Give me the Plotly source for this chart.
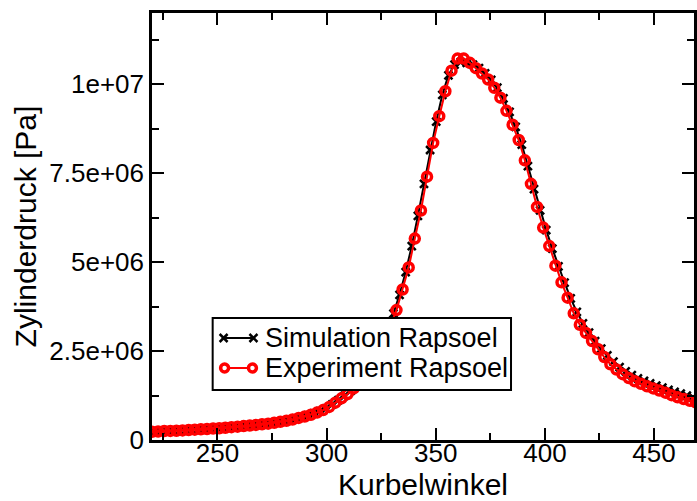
import plotly.graph_objects as go

# Experiment: crank angle grid (deg) and cylinder pressure (MPa)
exp_angle = [round(220.0 + 2.8 * i, 1) for i in range(90)]
exp_p_mpa = [0.23, 0.24, 0.25, 0.255, 0.26, 0.27, 0.28, 0.29, 0.30, 0.31,
             0.32, 0.33, 0.345, 0.36, 0.375, 0.39, 0.405, 0.425, 0.44, 0.46,
             0.485, 0.51, 0.54, 0.575, 0.62, 0.66, 0.71, 0.77, 0.84, 0.93,
             1.05, 1.17, 1.29, 1.45, 1.67, 1.9, 2.18, 2.52, 2.85, 3.2,
             3.65, 4.23, 4.85, 5.66, 6.45, 7.4, 8.35, 9.1, 9.8, 10.38,
             10.72, 10.72, 10.6, 10.45, 10.3, 10.13, 9.9, 9.62, 9.25, 8.86,
             8.43, 7.86, 7.2, 6.55, 5.97, 5.45, 4.9, 4.43, 4.0, 3.56,
             3.24, 3.01, 2.78, 2.55, 2.33, 2.13, 1.98, 1.85, 1.74, 1.65,
             1.58, 1.51, 1.45, 1.39, 1.33, 1.26, 1.2, 1.15, 1.1, 1.06]

# Simulation
sim_angle = [round(221.4 + 2.8 * i, 1) for i in range(89)]
sim_p_mpa = [0.235, 0.245, 0.252, 0.258, 0.265, 0.275, 0.285, 0.295, 0.305, 0.315,
             0.327, 0.34, 0.352, 0.368, 0.383, 0.398, 0.415, 0.433, 0.45, 0.473,
             0.498, 0.525, 0.558, 0.598, 0.64, 0.69, 0.745, 0.81, 0.89, 1.0,
             1.12, 1.24, 1.38, 1.58, 1.82, 2.08, 2.42, 2.76, 3.12, 3.55,
             4.08, 4.72, 5.45, 6.3, 7.2, 8.15, 8.95, 9.7, 10.25, 10.55,
             10.62, 10.6, 10.55, 10.45, 10.3, 10.12, 9.9, 9.6, 9.22, 8.8,
             8.3, 7.7, 7.05, 6.45, 5.9, 5.38, 4.88, 4.42, 3.98, 3.6,
             3.28, 3.02, 2.78, 2.57, 2.38, 2.2, 2.05, 1.93, 1.82, 1.73,
             1.66, 1.59, 1.53, 1.47, 1.41, 1.35, 1.3, 1.25, 1.2]

series_names = ["Simulation Rapsoel", "Experiment Rapsoel"]
x_tickvals = [250, 300, 350, 400, 450]
y_tickvals = [0, 2.5e6, 5e6, 7.5e6, 1e7]
y_ticktext = ["0", "2.5e+06", "5e+06", "7.5e+06", "1e+07"]

FONT = "Liberation Sans, Arial, sans-serif"
RED = "#ff0000"

# plot-area geometry in pixels (for the hand-drawn legend box)
L, R, T, B = 152, 697, 13, 440
def px(x):
    return (x - L) / (R - L)
def py(y):
    return (B - y) / (B - T)

fig = go.Figure()
fig.add_trace(go.Scatter(
    x=sim_angle, y=[v * 1e6 for v in sim_p_mpa], mode="lines+markers",
    name=series_names[0], showlegend=False,
    line=dict(color="black", width=2),
    marker=dict(symbol="x-thin-open", size=8, color="black",
                line=dict(color="black", width=2.5)),
))
fig.add_trace(go.Scatter(
    x=exp_angle, y=[v * 1e6 for v in exp_p_mpa], mode="lines+markers",
    name=series_names[1], showlegend=False,
    line=dict(color=RED, width=2),
    marker=dict(symbol="circle-open", size=9, color=RED,
                line=dict(color=RED, width=3.5)),
))

axis_common = dict(
    showgrid=False, zeroline=False, showline=True, linecolor="black",
    linewidth=2.5, mirror="allticks", ticks="inside", ticklen=12,
    tickwidth=2, tickcolor="black",
    tickfont=dict(family=FONT, size=26, color="black"),
)

fig.update_xaxes(
    range=[220, 468.3], tickvals=x_tickvals, ticklabelstandoff=-12,
    minor=dict(dtick=25, tick0=0, ticks="inside", ticklen=7, tickwidth=2,
               tickcolor="black"),
    title=dict(text="Kurbelwinkel", font=dict(family=FONT, size=30, color="black"),
               standoff=3),
    **axis_common,
)
fig.update_yaxes(
    range=[0, 1.2e7], tickvals=y_tickvals, ticktext=y_ticktext,
    minor=dict(dtick=1.25e6, tick0=0, ticks="inside", ticklen=7, tickwidth=2,
               tickcolor="black"),
    title=dict(text="Zylinderdruck [Pa]", font=dict(family=FONT, size=30, color="black"),
               standoff=4),
    **axis_common,
)

# Legend drawn as box + symbols + text
shapes = [dict(type="rect", xref="paper", yref="paper",
               x0=px(213), x1=px(513), y0=py(390), y1=py(318),
               fillcolor="white", line=dict(color="black", width=2), layer="above")]
row_y = [338, 368]
# simulation symbol: x—x
shapes.append(dict(type="line", xref="paper", yref="paper", x0=px(224), x1=px(254),
                   y0=py(row_y[0]), y1=py(row_y[0]), line=dict(color="black", width=2),
                   layer="above"))
for cx in (224, 254):
    for dy in (-1, 1):
        shapes.append(dict(type="line", xref="paper", yref="paper",
                           x0=px(cx - 4), x1=px(cx + 4),
                           y0=py(row_y[0] - 4 * dy), y1=py(row_y[0] + 4 * dy),
                           line=dict(color="black", width=2.5), layer="above"))
# experiment symbol: o—o
shapes.append(dict(type="line", xref="paper", yref="paper", x0=px(225), x1=px(253),
                   y0=py(row_y[1]), y1=py(row_y[1]), line=dict(color=RED, width=2),
                   layer="above"))
for cx in (225, 253):
    shapes.append(dict(type="circle", xref="paper", yref="paper",
                       x0=px(cx - 4), x1=px(cx + 4),
                       y0=py(row_y[1] + 4), y1=py(row_y[1] - 4),
                       fillcolor="white", line=dict(color=RED, width=3.5), layer="above"))

annotations = [dict(text=series_names[i], xref="paper", yref="paper",
                    x=px(264), y=py(row_y[i]), xanchor="left", yanchor="middle",
                    showarrow=False, font=dict(family=FONT, size=27, color="black"))
               for i in range(2)]

fig.update_layout(
    width=697, height=501,
    margin=dict(l=L, r=0, t=T, b=501 - B),
    plot_bgcolor="white", paper_bgcolor="white",
    shapes=shapes, annotations=annotations,
)

fig.write_html("out.html")
